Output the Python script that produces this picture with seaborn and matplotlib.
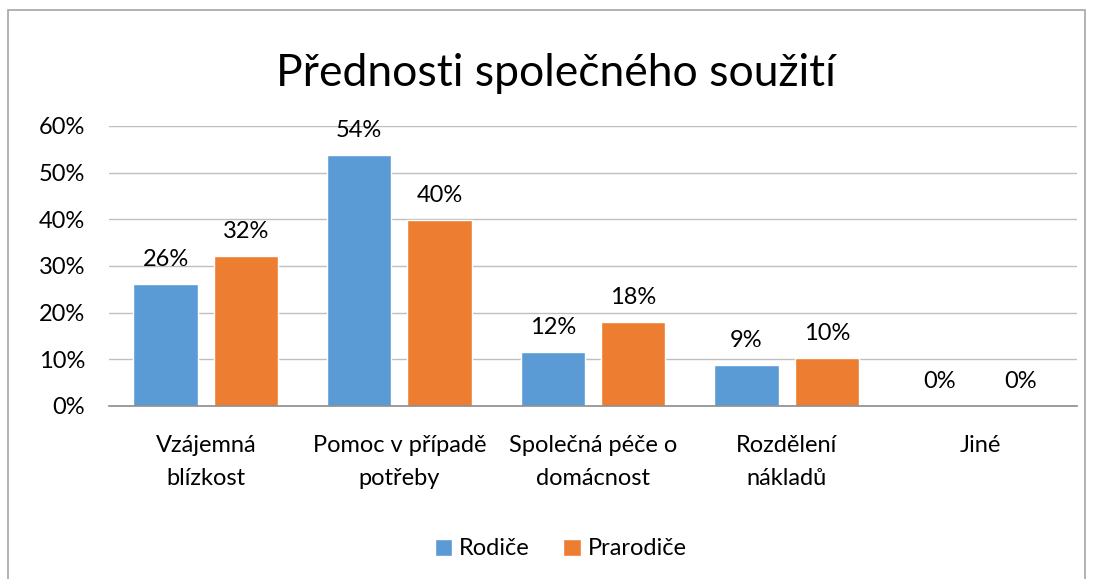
import pandas as pd
import seaborn as sns
import matplotlib.pyplot as plt
from matplotlib.patches import Rectangle
from matplotlib.ticker import PercentFormatter

# data (percent)
categories = ["Vzájemná\nblízkost", "Pomoc v případě\npotřeby", "Společná péče o\ndomácnost",
              "Rozdělení\nnákladů", "Jiné"]
rodice = [26.1, 53.8, 11.6, 8.8, 0.0]
prarodice = [32.1, 39.9, 18.0, 10.3, 0.0]
series = ["Rodiče", "Prarodiče"]
colors = ["#5B9BD5", "#ED7D31"]

df = pd.DataFrame({
    "kategorie": categories * 2,
    "skupina": [series[0]] * len(categories) + [series[1]] * len(categories),
    "hodnota": rodice + prarodice,
})

sns.set_theme(style="white")
plt.rcParams["font.family"] = ["Lato", "DejaVu Sans"]
plt.rcParams["text.color"] = "black"

fs = 17

fig = plt.figure(figsize=(10.93, 5.79), dpi=100)
ax = fig.add_axes([0.0997, 0.2988, 0.8857, 0.4836])

sns.barplot(data=df, x="kategorie", y="hodnota", hue="skupina", palette=colors,
            width=0.83, gap=0.2, ax=ax, saturation=1)

for cont in ax.containers:
    ax.bar_label(cont, fmt="%.0f%%", padding=10, fontsize=fs, color="black")

ax.set_ylim(0, 60)
ax.set_yticks(range(0, 61, 10))
ax.yaxis.set_major_formatter(PercentFormatter(decimals=0))
ax.set_xlim(-0.5, len(categories) - 0.5)
ax.grid(axis="y", color="#BFBFBF", linewidth=1)
ax.set_axisbelow(True)
for s in ["top", "right", "left"]:
    ax.spines[s].set_visible(False)
ax.spines["bottom"].set_color("#8C8C8C")
ax.spines["bottom"].set_linewidth(1.2)
ax.tick_params(axis="both", length=0, labelsize=fs, colors="black")
ax.tick_params(axis="x", pad=21)
ax.tick_params(axis="y", pad=17)
ax.set_xlabel("")
ax.set_ylabel("")
for t in ax.get_xticklabels():
    t.set_linespacing(1.7)

fig.suptitle("Přednosti společného soužití", x=0.509, y=0.908, fontsize=32, color="black")

handles, labels = ax.get_legend_handles_labels()
ax.get_legend().remove()
fig.legend(handles, labels, loc="center", bbox_to_anchor=(0.513, 0.052), ncol=2,
           frameon=False, fontsize=fs, handlelength=0.75, handleheight=0.75,
           handletextpad=0.3, columnspacing=1.4)

# outer chart frame
fig.patches.append(Rectangle((0.007, -0.01), 0.986, 0.993, transform=fig.transFigure,
                             fill=False, edgecolor="#A6A6A6", linewidth=1.2))

fig.savefig("out.png", dpi=100)
